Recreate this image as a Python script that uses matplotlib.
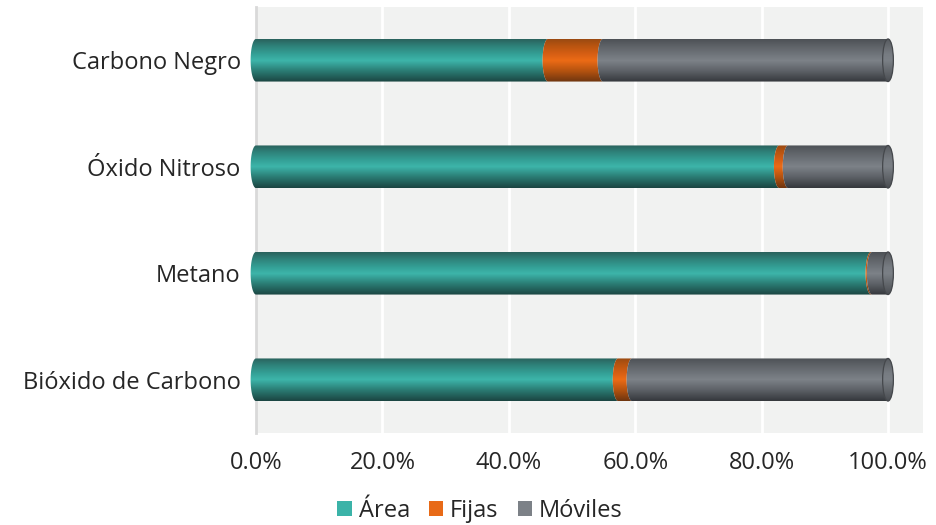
import numpy as np
import matplotlib
matplotlib.use("Agg")
import matplotlib.pyplot as plt
from matplotlib.path import Path
from matplotlib.patches import PathPatch, Ellipse, Patch
from matplotlib.colors import LinearSegmentedColormap

categories = ["Bióxido de Carbono", "Metano", "Óxido Nitroso", "Carbono Negro"]
area = [57.3, 97.3, 82.8, 46.2]
fijas = [2.2, 0.2, 1.4, 8.7]
moviles = [40.5, 2.5, 15.8, 45.1]
series_names = ["Área", "Fijas", "Móviles"]
xticks = [0, 20, 40, 60, 80, 100]
xticklabels = ["0.0%", "20.0%", "40.0%", "60.0%", "80.0%", "100.0%"]

base_colors = ["#3bb3a8", "#e86a17", "#7c8187"]
grads = [
    ["#1b4542", "#2a7a72", "#3db5aa", "#34a096", "#2e8078", "#2a625d"],
    ["#6e3510", "#b3520f", "#ec6b16", "#d75f14", "#b85410", "#9a4a12"],
    ["#35383c", "#5c6066", "#7d8288", "#6f747a", "#5d6166", "#4d5156"],
]
stops = [0.0, 0.25, 0.5, 0.65, 0.85, 1.0]

plt.rcParams["font.family"] = ["Open Sans", "DejaVu Sans"]
fig = plt.figure(figsize=(9.37, 5.25), dpi=100)
ax = fig.add_axes([256 / 937, 1 - 433 / 525, (923 - 256) / 937, (433 - 7) / 525])
ax.set_facecolor("#f1f2f1")

bar_h = 0.40
rx = 0.85
hh = bar_h / 2


def seg_path(a, b, yc, last):
    th = np.linspace(-np.pi / 2, np.pi / 2, 60)
    left = np.column_stack([a - rx * np.cos(th), yc + hh * np.sin(th)])
    th2 = th[::-1]
    if last:
        right = np.column_stack([b + rx * np.cos(th2), yc + hh * np.sin(th2)])
    else:
        right = np.column_stack([b - rx * np.cos(th2), yc + hh * np.sin(th2)])
    verts = np.vstack([left, right, left[:1]])
    codes = [Path.MOVETO] + [Path.LINETO] * (len(verts) - 2) + [Path.CLOSEPOLY]
    return Path(verts, codes)


def grad_img(cols):
    cmap = LinearSegmentedColormap.from_list("g", list(zip(stops, cols)))
    t = np.linspace(0, 1, 200)
    return cmap(t)[:, :3].reshape(200, 1, 3)


data = [area, fijas, moviles]
for i, cat in enumerate(categories):
    yc = i
    start = 0.0
    for s in range(3):
        v = data[s][i]
        a, b = start, start + v
        last = s == 2
        path = seg_path(a, b, yc, last)
        patch = PathPatch(path, transform=ax.transData, facecolor="none", edgecolor="none")
        ax.add_patch(patch)
        patch.set_clip_box(fig.bbox)
        img = grad_img(grads[s])
        im = ax.imshow(img, extent=[a - rx - 0.5, b + rx + 0.5, yc - hh, yc + hh],
                       origin="lower", aspect="auto", interpolation="bilinear", zorder=3)
        im.set_clip_path(patch)
        im.set_clip_box(fig.bbox)
        start = b
    # end cap
    cap = Ellipse((start, yc), 2 * rx, 2 * hh, transform=ax.transData,
                  facecolor="none", edgecolor="none")
    ax.add_patch(cap)
    capcols = ["#4a4d52", "#62666b", "#7b8086", "#777c82", "#65696e", "#575b60"]
    im = ax.imshow(grad_img(capcols), extent=[start - rx, start + rx, yc - hh, yc + hh],
                   origin="lower", aspect="auto", interpolation="bilinear", zorder=4)
    im.set_clip_path(cap)
    im.set_clip_box(fig.bbox)
    edge = Ellipse((start, yc), 2 * rx, 2 * hh, transform=ax.transData,
                   facecolor="none", edgecolor="#45484c", lw=0.9, zorder=5)
    ax.add_patch(edge)

ax.set_xlim(0, (923 - 256) / 632 * 100)
ax.set_ylim(-0.5, 3.5)
ax.set_yticks(range(len(categories)))
ax.set_yticklabels(categories)
ax.set_xticks(xticks)
ax.set_xticklabels(xticklabels)
for x in xticks[1:]:
    ax.axvline(x, color="white", lw=2, zorder=1)
ax.tick_params(length=0, labelsize=17, colors="#262626")
ax.tick_params(axis="y", pad=11)
ax.tick_params(axis="x", pad=13)
for sp in ["top", "right", "bottom"]:
    ax.spines[sp].set_visible(False)
ax.spines["left"].set_color("#d9d9d9")
ax.spines["left"].set_linewidth(2)
ax.spines["left"].set_zorder(2)

handles = [Patch(facecolor=c, edgecolor="none") for c in base_colors]
fig.legend(handles, series_names, loc="center", bbox_to_anchor=(480 / 937, 1 - 511 / 525),
           ncol=3, frameon=False, fontsize=17, handlelength=0.6, handleheight=0.6,
           handletextpad=0.3, columnspacing=0.8, labelcolor="#262626")

fig.savefig("out.png", dpi=100)
